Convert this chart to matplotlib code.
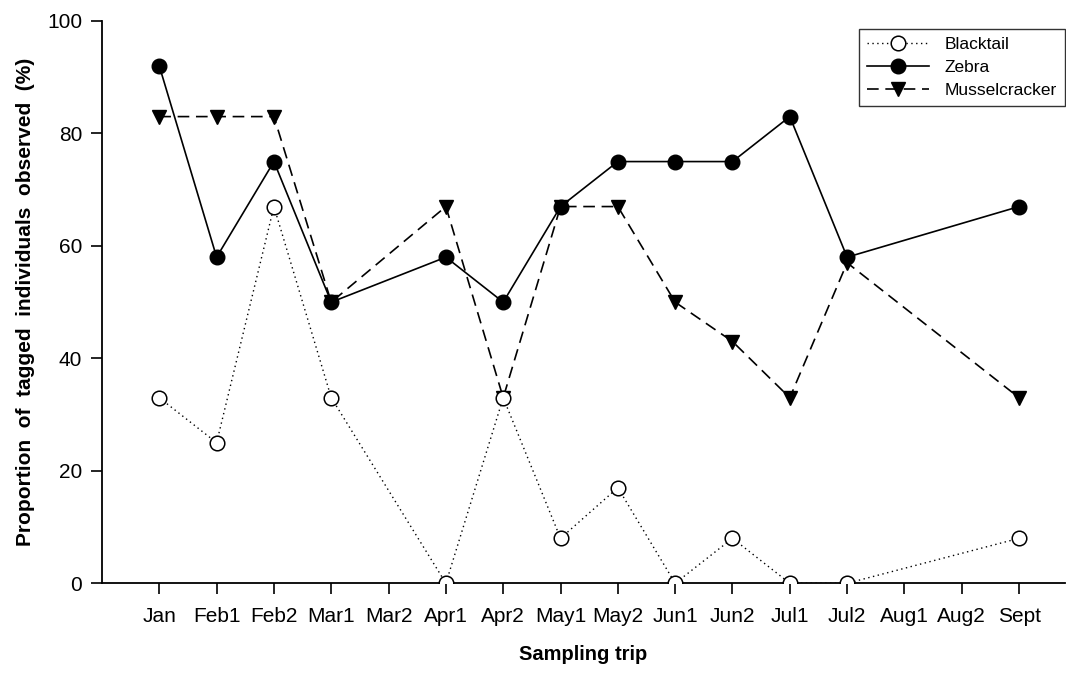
import numpy as np
import matplotlib
matplotlib.use("Agg")
import matplotlib.pyplot as plt

categories = ["Jan", "Feb1", "Feb2", "Mar1", "Mar2", "Apr1", "Apr2", "May1",
              "May2", "Jun1", "Jun2", "Jul1", "Jul2", "Aug1", "Aug2", "Sept"]
sampled = ["Jan", "Feb1", "Feb2", "Mar1", "Apr1", "Apr2", "May1", "May2",
           "Jun1", "Jun2", "Jul1", "Jul2", "Sept"]
blacktail = [33, 25, 67, 33, 0, 33, 8, 17, 0, 8, 0, 0, 8]
zebra = [92, 58, 75, 50, 58, 50, 67, 75, 75, 75, 83, 58, 67]
musselcracker = [83, 83, 83, 50, 67, 33, 67, 67, 50, 43, 33, 57, 33]

plt.rcParams['font.family'] = ['Liberation Sans', 'DejaVu Sans']

fig = plt.figure(figsize=(10.66, 6.73), dpi=100)
ax = fig.add_axes([0.0954, 0.1333, 0.9036, 0.8355])

xs = [categories.index(c) for c in sampled]

ax.plot(xs, blacktail, linestyle=(0, (1, 2.5)), color='black', linewidth=1.0,
        marker='o', markersize=10.5, markerfacecolor='white',
        markeredgecolor='black', markeredgewidth=1.1, label='Blacktail', zorder=3)
ax.plot(xs, zebra, linestyle='-', color='black', linewidth=1.2,
        marker='o', markersize=10.5, markerfacecolor='black',
        markeredgecolor='black', label='Zebra', zorder=4)
ax.plot(xs, musselcracker, linestyle=(0, (7, 4)), color='black', linewidth=1.2,
        marker='v', markersize=10.5, markerfacecolor='black',
        markeredgecolor='black', label='Musselcracker', zorder=2)

ax.set_xlim(-1.005, 15.8)
ax.set_ylim(0, 100)
ax.set_xticks(range(len(categories)))
ax.set_xticklabels(categories)
ax.set_yticks([0, 20, 40, 60, 80, 100])

for s in ['top', 'right']:
    ax.spines[s].set_visible(False)
for s in ['left', 'bottom']:
    ax.spines[s].set_linewidth(1.3)
ax.tick_params(axis='both', direction='out', length=8, width=1.2,
               labelsize=15, pad=6)
ax.tick_params(axis='x', pad=9)

ax.set_xlabel('Sampling trip', fontsize=14.5, fontweight='bold', labelpad=14)
ax.set_ylabel('Proportion  of  tagged  individuals  observed  (%)', fontsize=15,
              fontweight='bold', labelpad=9)

leg = ax.legend(loc='upper right', bbox_to_anchor=(0.999, 0.957),
                bbox_transform=fig.transFigure,
                fontsize=12.5, frameon=True, fancybox=False, edgecolor='black',
                handlelength=3.6, labelspacing=0.45, borderpad=0.45,
                handletextpad=0.9, borderaxespad=0.0)
leg.get_frame().set_linewidth(1.0)

fig.savefig('out.png', dpi=100)
